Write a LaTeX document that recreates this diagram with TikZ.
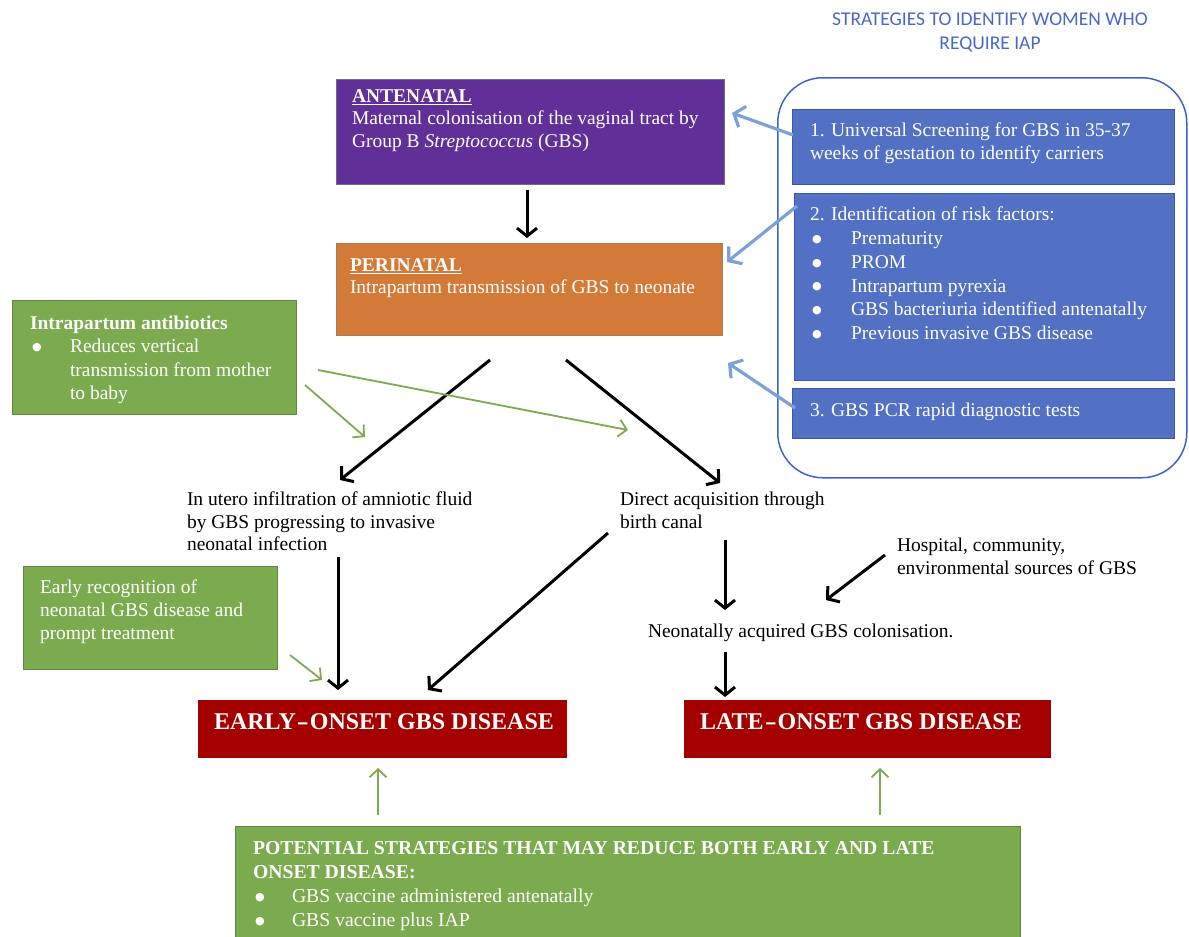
\documentclass[tikz,border=0pt]{standalone}
\usepackage{fontspec}
\usepackage{graphicx}
\setmainfont{Liberation Serif}
\newfontfamily\titlefont{Carlito}
\newfontfamily\dejavu{DejaVu Sans}
\usetikzlibrary{arrows.meta,calc}
\definecolor{cpurple}{RGB}{96,48,152}
\definecolor{corange}{RGB}{212,122,56}
\definecolor{cblue}{RGB}{82,112,196}
\definecolor{cblueb}{RGB}{58,86,168}
\definecolor{cltblue}{RGB}{122,162,216}
\definecolor{cgroup}{RGB}{60,100,200}
\definecolor{cgreen}{RGB}{124,170,78}
\definecolor{cgreenb}{RGB}{96,136,60}
\definecolor{cred}{RGB}{164,0,0}
\definecolor{ctitle}{RGB}{72,104,200}
\tikzset{
  x=1pt,y=-1pt,
  box/.style={draw, anchor=north west, inner sep=0pt, outer sep=0pt, line width=1pt},
  txt/.style={anchor=north west, inner sep=0pt, outer sep=0pt, align=left, font=\fontsize{19.5}{22.5}\selectfont},
  wtxt/.style={txt, text=white},
  blk/.style={line width=3pt, black, -{Straight Barb[length=8pt,width=20pt]}},
  grn/.style={line width=1.8pt, cgreen, -{Straight Barb[length=8pt,width=17pt]}},
  blu/.style={line width=3.2pt, cltblue, -{Straight Barb[length=9pt,width=22pt]}},
  big/.style={text=white, font=\bfseries\fontsize{24}{27}\selectfont, inner sep=0pt},
}
\newcommand{\bigbullet}{\raisebox{2.2pt}{\dejavu\fontsize{11}{11}\selectfont ●}}
\newcommand{\bul}[3]{\hspace*{#1}\makebox[#2][l]{\bigbullet}#3}
\newcommand{\wdash}{\kern1pt\scalebox{1.5}[1]{-}\kern1pt}
\begin{document}
\begin{tikzpicture}
\useasboundingbox (0,0) rectangle (1189,937);
% title and group
\node[font=\titlefont\fontsize{19.5}{24}\selectfont, text=ctitle, align=center, inner sep=0pt] (ttl) at (990,32) {STRATEGIES TO IDENTIFY WOMEN WHO\\REQUIRE IAP};
\node[draw=cgroup, line width=1.5pt, rounded corners=45pt, anchor=north west, inner sep=0pt, minimum width=409pt, minimum height=400pt] (grp) at (777,77) {};
% boxes
\node[box, fill=cpurple, draw=gray!70!cpurple, minimum width=388pt, minimum height=105pt] (ante) at (336,79) {};
\node[box, fill=corange, draw=gray!60!corange, minimum width=386pt, minimum height=92pt] (perin) at (336,243) {};
\node[box, fill=cblue, draw=cblueb, minimum width=382pt, minimum height=75pt] (s1) at (792,109) {};
\node[box, fill=cblue, draw=cblueb, minimum width=380pt, minimum height=187pt] (s2) at (794,193) {};
\node[box, fill=cblue, draw=cblueb, minimum width=382pt, minimum height=50pt] (s3) at (792,388) {};
\node[box, fill=cgreen, draw=cgreenb, minimum width=284pt, minimum height=114pt] (gr1) at (12,300) {};
\node[box, fill=cgreen, draw=cgreenb, minimum width=254pt, minimum height=103pt] (gr2) at (23,566) {};
\node[box, fill=cred, draw=cred, minimum width=368pt, minimum height=57pt] (early) at (198,700) {};
\node[box, fill=cred, draw=cred, minimum width=366pt, minimum height=57pt] (late) at (684,700) {};
\node[box, fill=cgreen, draw=cgreenb, minimum width=785pt, minimum height=125pt] (bottom) at (235,826) {};
% box texts
\node[wtxt] (antet) at (352,89.5) {\textbf{\underline{ANTENATAL}}\\Maternal colonisation of the vaginal tract by\\Group B \textit{Streptococcus} (GBS)};
\node[wtxt] (perint) at (350,258.5) {\textbf{\underline{PERINATAL}}\\Intrapartum transmission of GBS to neonate};
\node[wtxt, font=\fontsize{19.5}{23}\selectfont] (s1t) at (810,123) {1. Universal Screening for GBS in 35-37\\weeks of gestation to identify carriers};
\node[wtxt, font=\fontsize{19.5}{23.8}\selectfont] (s2t) at (810,207) {2. Identification of risk factors:\\\bul{2pt}{39pt}{Prematurity}\\\bul{2pt}{39pt}{PROM}\\\bul{2pt}{39pt}{Intrapartum pyrexia}\\\bul{2pt}{39pt}{GBS bacteriuria identified antenatally}\\\bul{2pt}{39pt}{Previous invasive GBS disease}};
\node[wtxt] (s3t) at (810,403) {3. GBS PCR rapid diagnostic tests};
\node[wtxt, font=\fontsize{19.5}{23.3}\selectfont] (gr1t) at (30,316) {\textbf{Intrapartum antibiotics}\\\bul{2pt}{38pt}{Reduces vertical}\\\hspace*{40pt}transmission from mother\\\hspace*{40pt}to baby};
\node[wtxt, font=\fontsize{19.5}{23}\selectfont] (gr2t) at (40,580) {Early recognition of\\neonatal GBS disease and\\prompt treatment};
\node[big] (earlyt) at (384,722) {EARLY\wdash ONSET GBS DISEASE};
\node[big] (latet) at (861,722) {LATE\wdash ONSET GBS DISEASE};
\node[wtxt, font=\fontsize{19.7}{24}\selectfont] (bottomt) at (253,841.5) {\textbf{POTENTIAL STRATEGIES THAT MAY REDUCE BOTH EARLY AND LATE}\\\textbf{ONSET DISEASE:}\\\bul{2pt}{37pt}{GBS vaccine administered antenatally}\\\bul{2pt}{37pt}{GBS vaccine plus IAP}};
% free texts
\node[txt] (utero) at (187,492) {In utero infiltration of amniotic fluid\\by GBS progressing to invasive\\neonatal infection};
\node[txt] (direct) at (620,492) {Direct acquisition through\\birth canal};
\node[txt, anchor=west] (neon) at (648,633) {Neonatally acquired GBS colonisation.};
\node[txt, font=\fontsize{19.5}{23}\selectfont] (hosp) at (897,538) {Hospital, community,\\environmental sources of GBS};
% black arrows
\draw[blk] ($(ante.south)+(-3,6)$) -- ($(perin.north)+(-2,-5)$);
\draw[blk] ($(perin.south)+(-39,25)$) -- ($(utero.north west)+(153,-12)$);
\draw[blk] ($(perin.south)+(37,25)$) -- ($(direct.north west)+(100,-9)$);
\draw[blk] ($(utero.north west)+(151,65)$) -- ($(early.north)+(-44,-10)$);
\draw[blk] ($(direct.north west)+(-12,41)$) -- ($(early.north)+(46,-10)$);
\draw[blk] ($(direct.north west)+(105,48)$) -- ($(neon.west)+(77,-23)$);
\draw[blk] ($(hosp.north west)+(-12,17)$) -- ($(neon.west)+(178,-33)$);
\draw[blk] ($(neon.west)+(77,19)$) -- ($(late.north)+(-142,-3)$);
% blue arrows
\draw[blu] ($(s1.west)+(1,-11.5)$) -- ($(ante.east)+(8,-18.5)$);
\draw[blu] ($(s2.north west)+(3,13)$) -- ($(perin.east)+(5,-27)$);
\draw[blu] ($(s3.west)+(3,-5)$) -- ($(perin.east)+(6,74)$);
% green arrows
\draw[grn] ($(gr1.south east)+(9,-29)$) -- ($(utero.north west)+(178,-55)$);
\draw[grn] ($(gr1.east)+(22,13)$) -- ($(direct.north west)+(8,-62)$);
\draw[grn] ($(gr2.east)+(13,37.5)$) -- ($(early.north)+(-60,-20)$);
\draw[grn] ($(bottom.north)+(-249.5,-11)$) -- ($(early.south)+(-4,11)$);
\draw[grn] ($(bottom.north)+(252.5,-11)$) -- ($(late.south)+(13,11)$);
\end{tikzpicture}
\end{document}
